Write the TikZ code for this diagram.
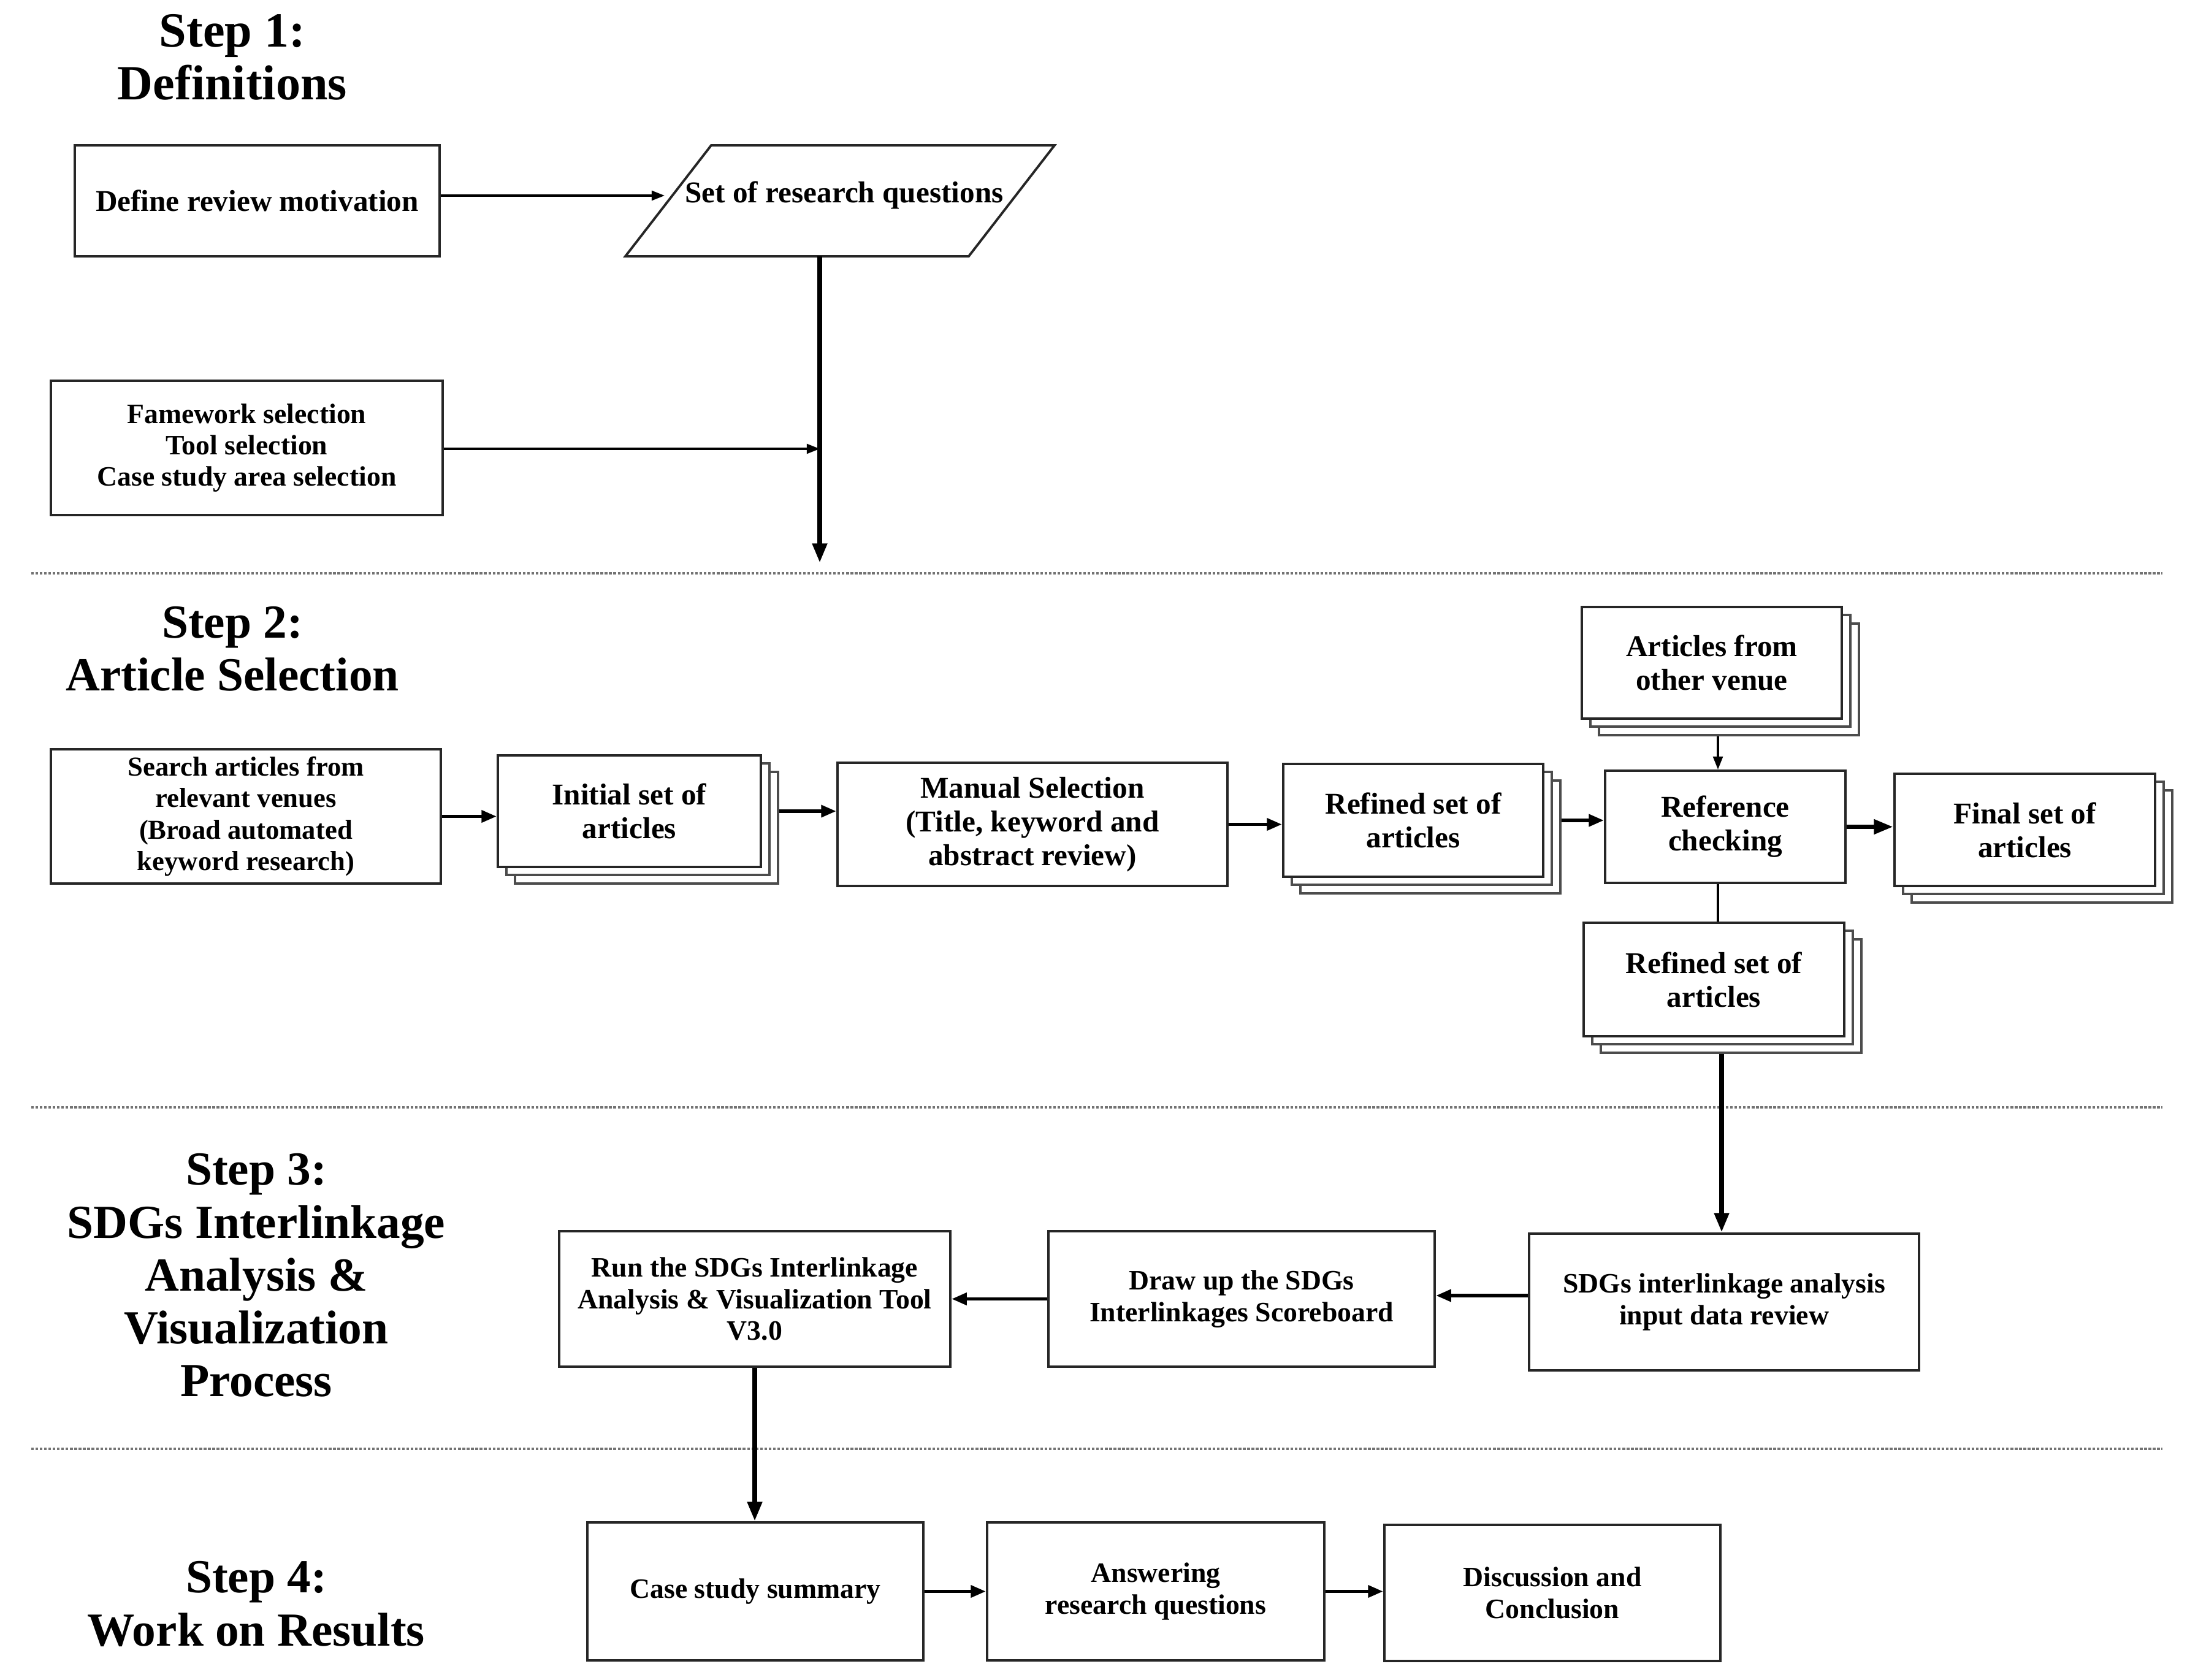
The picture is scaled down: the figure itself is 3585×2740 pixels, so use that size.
\documentclass[tikz,border=0pt]{standalone}
\usepackage{fontspec}
\setmainfont{Liberation Serif}
\usetikzlibrary{arrows.meta,calc}
\newcommand{\stk}[6]{%
  \node[layer, minimum width=#4, minimum height=#5] (#1c) at ($(#2,#3)+(28,27)$) {};
  \node[layer, minimum width=#4, minimum height=#5] (#1b) at ($(#2,#3)+(14,13)$) {};
  \node[sbox, minimum width=#4, minimum height=#5] (#1) at (#2,#3) {#6};
}
\begin{document}
\begin{tikzpicture}[x=0.01cm,y=-0.01cm,
  box/.style={draw=black!85, line width=1.1pt, fill=white, inner sep=2pt, align=center, font=\bfseries\fontsize{13}{14.6}\selectfont},
  sbox/.style={box, font=\bfseries\fontsize{14}{15.6}\selectfont},
  layer/.style={draw=black!70, line width=1pt, fill=white},
  title/.style={align=center, font=\bfseries\fontsize{22}{24.5}\selectfont},
  sep/.style={draw=black!55, line width=0.9pt, dash pattern=on 1.2pt off 0.8pt},
  thinarr/.style={line width=0.9pt, -{Triangle[length=6pt,width=4.5pt]}},
  midarr/.style={line width=1.6pt, -{Triangle[length=7pt,width=5.5pt]}},
  thickarr/.style={line width=2.2pt, -{Triangle[length=9pt,width=6.5pt]}},
  plainline/.style={line width=0.9pt},
]
\useasboundingbox (0,0) rectangle (3585,2740);

% ---------- Step 1 ----------
\node[title, font=\bfseries\fontsize{22.8}{24.5}\selectfont] (t1) at (379,93) {Step 1:\\Definitions};
\node[box, font=\bfseries\fontsize{14}{15.6}\selectfont, minimum width=5.95cm, minimum height=1.81cm] (dm) at (419.5,327.5) {Define review motivation};
\draw[draw=black!85, line width=1.1pt] (1160,237) -- (1720,237) -- (1580,418) -- (1020,418) -- cycle;
\node[font=\bfseries\fontsize{14}{15.6}\selectfont, inner sep=0pt] (rq) at (1377,318) {Set of research questions};
\coordinate (rqL) at (1084,319);
\coordinate (rqB) at (1337,418);
\coordinate (rqE) at (1337,918);
\coordinate (fwJ) at (1337,732);
\node[box, minimum width=6.39cm, minimum height=2.19cm] (fw) at (402.5,730.5) {Famework selection\\Tool selection\\Case study area selection};
\draw[thinarr] (dm.east |- rqL) -- (rqL);
\draw[thickarr] (rqB) -- (rqE);
\draw[thinarr] (fw.east |- fwJ) -- (fwJ);

\draw[sep] (51,935) -- (3527,935);

% ---------- Step 2 ----------
\node[title] (t2) at (379,1058) {Step 2:\\Article Selection};
\node[box, font=\bfseries\fontsize{12.7}{14.6}\selectfont, minimum width=6.36cm, minimum height=2.19cm] (se) at (401,1331.5) {Search articles from\\relevant venues\\(Broad automated\\keyword research)};
\stk{is}{1026.5}{1323}{4.29cm}{1.82cm}{Initial set of\\articles}
\node[sbox, minimum width=6.36cm, minimum height=2.01cm] (ms) at (1684,1344.5) {Manual Selection\\(Title, keyword and\\abstract review)};
\stk{ra}{2305}{1338}{4.24cm}{1.84cm}{Refined set of\\articles}
\stk{ov}{2792}{1081}{4.24cm}{1.82cm}{Articles from\\other venue}
\node[sbox, minimum width=3.92cm, minimum height=1.83cm] (rc) at (2814,1348.5) {Reference\\checking};
\stk{fs}{3302.5}{1353.5}{4.25cm}{1.83cm}{Final set of\\articles}
\stk{rb}{2795.5}{1597.5}{4.25cm}{1.85cm}{Refined set of\\articles}
\coordinate (colx) at (2802,0);
\coordinate (coly) at (2808,0);

\draw[midarr] (se.east) -- (se.east -| is.west);
\draw[midarr] (is.east -| isc.east) -- (is.east -| ms.west);
\draw[midarr] (ms.east) -- (ms.east -| ra.west);
\draw[midarr] (ra.east -| rac.east) -- (ra.east -| rc.west);
\draw[thickarr] (rc.east) -- (rc.east -| fs.west);
\draw[thinarr] (ovc.south -| colx) -- (rc.north -| colx);
\draw[plainline] (rc.south -| colx) -- (rb.north -| colx);

\draw[sep] (51,1806) -- (3527,1806);

% ---------- Step 3 ----------
\node[title] (t3) at (418,2080) {Step 3:\\SDGs Interlinkage\\Analysis \&\\Visualization\\Process};
\node[box, minimum width=6.38cm, minimum height=2.21cm] (ru) at (1231,2118.5) {Run the SDGs Interlinkage\\Analysis \& Visualization Tool\\V3.0};
\node[box, minimum width=6.30cm, minimum height=2.21cm] (du) at (2025,2118.5) {Draw up the SDGs\\Interlinkages Scoreboard};
\node[box, minimum width=6.36cm, minimum height=2.23cm] (sd) at (2812,2123.5) {SDGs interlinkage analysis\\input data review};
\coordinate (sdy) at (0,2113);

\draw[thickarr] (rbc.south -| coly) -- (sd.north -| coly);
\draw[midarr] (sd.west |- sdy) -- (du.east |- sdy);
\draw[midarr] (du.west) -- (ru.east);

\draw[sep] (51,2363) -- (3527,2363);

% ---------- Step 4 ----------
\node[title] (t4) at (418,2616) {Step 4:\\Work on Results};
\node[box, minimum width=5.48cm, minimum height=2.25cm] (cs) at (1232,2595.5) {Case study summary};
\node[box, minimum width=5.50cm, minimum height=2.25cm] (aq) at (1885,2595.5) {Answering\\research questions};
\node[box, minimum width=5.48cm, minimum height=2.22cm] (dc) at (2532,2598) {Discussion and\\Conclusion};

\draw[thickarr] (ru.south) -- (ru.south |- cs.north);
\draw[midarr] (cs.east) -- (cs.east -| aq.west);
\draw[midarr] (aq.east) -- (aq.east -| dc.west);
\end{tikzpicture}
\end{document}
